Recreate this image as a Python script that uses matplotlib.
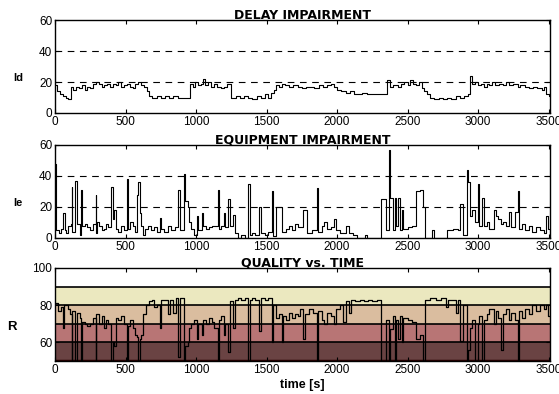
import matplotlib
matplotlib.use("Agg")
import matplotlib.pyplot as plt

plt.rcParams['font.family'] = ['Liberation Sans', 'DejaVu Sans']

# Delay impairment Id: step breakpoints (time [s], value)
delay_t = [0, 15, 35, 55, 75, 95, 110, 130, 150, 170, 190, 210, 230, 250, 270, 290, 310, 330, 350,
           370, 390, 410, 430, 450, 470, 490, 510, 530, 550, 570, 590, 610, 630, 650, 665, 690, 720,
           750, 780, 810, 840, 870, 900, 930, 955, 975, 995, 1015, 1035, 1050, 1065, 1085, 1105,
           1130, 1150, 1175, 1200, 1220, 1245, 1280, 1310, 1340, 1370, 1400, 1430, 1460, 1490,
           1510, 1530, 1550, 1570, 1590, 1610, 1630, 1660, 1690, 1720, 1750, 1780, 1810, 1840,
           1870, 1900, 1930, 1960, 1980, 2000, 2030, 2060, 2090, 2120, 2150, 2180, 2210, 2250,
           2290, 2330, 2355, 2375, 2400, 2430, 2450, 2475, 2500, 2520, 2540, 2560, 2580, 2600,
           2620, 2640, 2660, 2690, 2720, 2750, 2780, 2810, 2840, 2870, 2900, 2930, 2945, 2955,
           2975, 3000, 3020, 3040, 3060, 3080, 3100, 3120, 3150, 3180, 3200, 3220, 3250, 3280,
           3300, 3330, 3360, 3390, 3420, 3450, 3470, 3485, 3500]
delay_v = [18, 14, 12, 11, 10, 9, 17, 15, 17, 16, 18, 15, 17, 16, 19, 20, 19, 17, 18,
           19, 17, 19, 18, 20, 17, 18, 19, 17, 16, 19, 20, 18, 17, 14, 11, 10, 11,
           10, 11, 10, 11, 10, 10, 10, 19, 17, 20, 18, 19, 22, 18, 20, 17,
           19, 17, 16, 17, 19, 10, 11, 10, 11, 10, 9, 11, 10, 12,
           10, 13, 15, 18, 17, 19, 18, 17, 18, 17, 16, 17, 17, 16,
           18, 17, 18, 19, 17, 15, 14, 13, 14, 12, 12, 13, 12, 12,
           12, 12, 21, 17, 18, 17, 19, 20, 18, 21, 19, 18, 20, 16,
           14, 12, 10, 9, 10, 9, 10, 9, 11, 10, 11, 12, 24, 19,
           20, 18, 19, 17, 19, 18, 20, 18, 19, 18, 20, 18, 19, 17,
           18, 17, 16, 17, 16, 15, 17, 12, 11]

# Equipment impairment Ie: step breakpoints (time [s], value)
equip_t = [0, 8, 30, 45, 55, 68, 80, 95, 110, 117, 123, 140, 158, 175, 187, 193, 210, 230, 250,
           270, 288, 292, 300, 315, 330, 345, 360, 375, 395, 410, 420, 430, 450, 470, 490, 512,
           517, 530, 550, 570, 580, 590, 602, 612, 625, 640, 660, 680, 700, 720, 745, 755, 775,
           800, 820, 850, 875, 885, 915, 921, 940, 950, 965, 985, 1005, 1015, 1040, 1050, 1070,
           1090, 1110, 1130, 1155, 1162, 1180, 1195, 1202, 1225, 1240, 1265, 1278, 1300, 1320,
           1345, 1372, 1380, 1400, 1420, 1450, 1462, 1490, 1510, 1540, 1548, 1570, 1610, 1640,
           1660, 1680, 1700, 1720, 1760, 1790, 1820, 1860, 1868, 1890, 1910, 1930, 1960, 1980,
           1995, 2020, 2060, 2085, 2110, 2140, 2195, 2210, 2315, 2348, 2370, 2376, 2395, 2408,
           2415, 2435, 2445, 2460, 2470, 2500, 2530, 2560, 2590, 2610, 2625, 2675, 2685, 2780,
           2820, 2860, 2875, 2890, 2918, 2926, 2940, 2960, 2980, 3000, 3010, 3030, 3040, 3060,
           3080, 3110, 3125, 3140, 3160, 3180, 3200, 3220, 3235, 3260, 3285, 3292, 3310, 3330,
           3360, 3380, 3410, 3440, 3470, 3485, 3495]
equip_v = [48, 5, 3, 6, 16, 5, 3, 8, 9, 33, 4, 37, 9, 2, 31, 8, 9, 7, 5,
           9, 28, 3, 10, 8, 5, 6, 9, 7, 33, 12, 18, 6, 4, 8, 5, 38,
           6, 10, 8, 4, 28, 36, 16, 8, 2, 6, 8, 5, 7, 4, 13, 6, 4,
           8, 5, 7, 31, 5, 41, 24, 20, 10, 6, 2, 14, 5, 16, 8, 6,
           7, 8, 8, 31, 6, 8, 16, 7, 25, 8, 15, 3, 0, 2,
           0, 35, 2, 3, 2, 20, 3, 2, 4, 30, 1, 20, 4, 6,
           8, 5, 9, 7, 18, 3, 5, 32, 4, 8, 10, 6, 7, 12,
           5, 3, 8, 3, 2, 0, 2, 0, 25, 5, 57, 26, 5, 26,
           8, 26, 5, 18, 6, 7, 8, 30, 31, 20, 0, 5, 0, 5,
           6, 5, 22, 2, 44, 36, 14, 18, 10, 35, 8, 26, 8, 10,
           6, 18, 14, 12, 9, 10, 8, 17, 7, 17, 30, 6, 9, 5,
           8, 4, 7, 5, 3, 14, 6]

# Transmission rating R: step breakpoints (time [s], value)
qual_t = [0, 20, 40, 55, 65, 90, 106, 117, 123, 140, 158, 175, 187, 193, 210, 230, 250, 270, 288,
          292, 310, 330, 345, 360, 375, 395, 410, 420, 430, 450, 470, 490, 512, 517, 530, 550,
          570, 580, 590, 602, 612, 625, 645, 665, 690, 700, 720, 745, 755, 775, 800, 815, 840,
          855, 875, 885, 915, 921, 940, 950, 965, 985, 1005, 1015, 1040, 1050, 1070, 1090, 1110,
          1130, 1155, 1162, 1180, 1195, 1202, 1225, 1240, 1265, 1278, 1300, 1320, 1345, 1372,
          1380, 1400, 1420, 1450, 1462, 1490, 1510, 1540, 1548, 1570, 1590, 1610, 1620, 1640,
          1660, 1680, 1700, 1720, 1740, 1760, 1775, 1800, 1830, 1860, 1868, 1890, 1910, 1930,
          1960, 1980, 1995, 2020, 2040, 2060, 2085, 2100, 2130, 2160, 2190, 2220, 2250, 2280,
          2315, 2348, 2370, 2376, 2395, 2408, 2415, 2435, 2445, 2460, 2470, 2500, 2530, 2560,
          2590, 2610, 2625, 2660, 2700, 2740, 2770, 2790, 2820, 2840, 2860, 2875, 2890, 2918,
          2926, 2940, 2960, 2980, 3000, 3010, 3030, 3040, 3060, 3080, 3110, 3125, 3140, 3160,
          3175, 3200, 3220, 3235, 3260, 3285, 3292, 3310, 3330, 3360, 3380, 3410, 3440, 3470,
          3485, 3495]
qual_v = [81, 77, 79, 68, 80, 78, 75, 50, 77, 50, 76, 73, 50, 71, 70, 69, 70, 73, 50,
          75, 70, 74, 68, 72, 70, 50, 60, 58, 73, 72, 74, 70, 50, 69, 72, 68,
          64, 63, 50, 62, 64, 75, 80, 82, 83, 79, 80, 68, 83, 83, 75, 83, 76,
          84, 52, 84, 50, 58, 60, 68, 70, 72, 62, 70, 64, 72, 70, 73, 71,
          68, 50, 72, 74, 64, 70, 55, 82, 68, 83, 84, 83, 84, 50,
          83, 84, 83, 66, 84, 83, 84, 60, 80, 73, 75, 60, 74, 72,
          76, 73, 75, 74, 78, 62, 75, 78, 76, 50, 77, 72, 70, 76,
          74, 70, 78, 80, 71, 82, 76, 83, 82, 83, 82, 83, 82, 83,
          50, 72, 50, 67, 74, 50, 72, 62, 74, 60, 73, 72, 71, 62,
          64, 50, 83, 84, 83, 84, 79, 83, 83, 76, 83, 61, 80, 50,
          56, 68, 72, 50, 70, 74, 50, 72, 75, 78, 70, 77, 73, 56,
          75, 78, 72, 76, 72, 50, 77, 73, 78, 75, 80, 77, 80, 78,
          80, 74]

# Quality bands of the R scale (lower bound, upper bound, colour)
band_lo = [50, 60, 70, 80, 90]
band_hi = [60, 70, 80, 90, 100]
band_colors = ['#6a4343', '#b87575', '#dabd9f', '#ebe8bf', '#ffffff']

x_ticks = [0, 500, 1000, 1500, 2000, 2500, 3000, 3500]

fig = plt.figure(figsize=(5.59, 3.94), dpi=100)
left, width, height = 0.0984, 0.8855, 0.236
ax1 = fig.add_axes([left, 0.7132, width, height])
ax2 = fig.add_axes([left, 0.396, width, height])
ax3 = fig.add_axes([left, 0.0838, width, height])

title_kw = dict(fontsize=9, fontweight='bold', family='DejaVu Sans', pad=1)
tick_fs = 8.5


def style(ax):
    ax.set_xlim(0, 3510)
    ax.set_xticks(x_ticks)
    ax.tick_params(direction='in', top=True, right=True, length=3, width=0.8,
                   labelsize=tick_fs, pad=2)
    for s in ax.spines.values():
        s.set_linewidth(1.0)


def stairs(ax, t, v, **kw):
    tt = list(t) + [3510]
    ax.step(tt, list(v) + [v[-1]], where='post', color='black', **kw)


# Delay impairment
stairs(ax1, delay_t, delay_v, lw=0.8)
ax1.set_ylim(0, 60)
ax1.set_yticks([0, 20, 40, 60])
for y in (20, 40):
    ax1.axhline(y, color='black', lw=0.8, ls=(0, (6, 5)), zorder=0)
ax1.set_title('DELAY IMPAIRMENT', **title_kw)
ax1.set_ylabel('Id', rotation=0, fontsize=8, fontweight='bold', va='center', ha='center')
ax1.yaxis.set_label_coords(-0.075, 0.38)
style(ax1)

# Equipment impairment
stairs(ax2, equip_t, equip_v, lw=0.8)
ax2.set_ylim(0, 60)
ax2.set_yticks([0, 20, 40, 60])
for y in (20, 40):
    ax2.axhline(y, color='black', lw=0.8, ls=(0, (6, 5)), zorder=0)
ax2.set_title('EQUIPMENT IMPAIRMENT', **title_kw)
ax2.set_ylabel('Ie', rotation=0, fontsize=8, fontweight='bold', va='center', ha='center')
ax2.yaxis.set_label_coords(-0.075, 0.38)
style(ax2)

# Quality vs. time with coloured R bands
for lo, hi, c in zip(band_lo, band_hi, band_colors):
    ax3.axhspan(lo, hi, color=c, zorder=0, lw=0)
for y in band_lo[1:]:
    ax3.axhline(y, color='black', lw=1.2, zorder=1)
ax3.axhline(50, color='#2a0000', lw=2.5, zorder=1)
stairs(ax3, qual_t, qual_v, lw=0.9, zorder=2)
ax3.set_ylim(50, 100)
ax3.set_yticks([60, 80, 100])
ax3.set_title('QUALITY vs. TIME', **title_kw)
ax3.set_ylabel('R', rotation=0, fontsize=9.5, fontweight='bold', va='center', ha='center')
ax3.yaxis.set_label_coords(-0.087, 0.37)
ax3.set_xlabel('time [s]', fontsize=9, fontweight='bold', labelpad=2)
style(ax3)

fig.savefig('out.png', dpi=100)
